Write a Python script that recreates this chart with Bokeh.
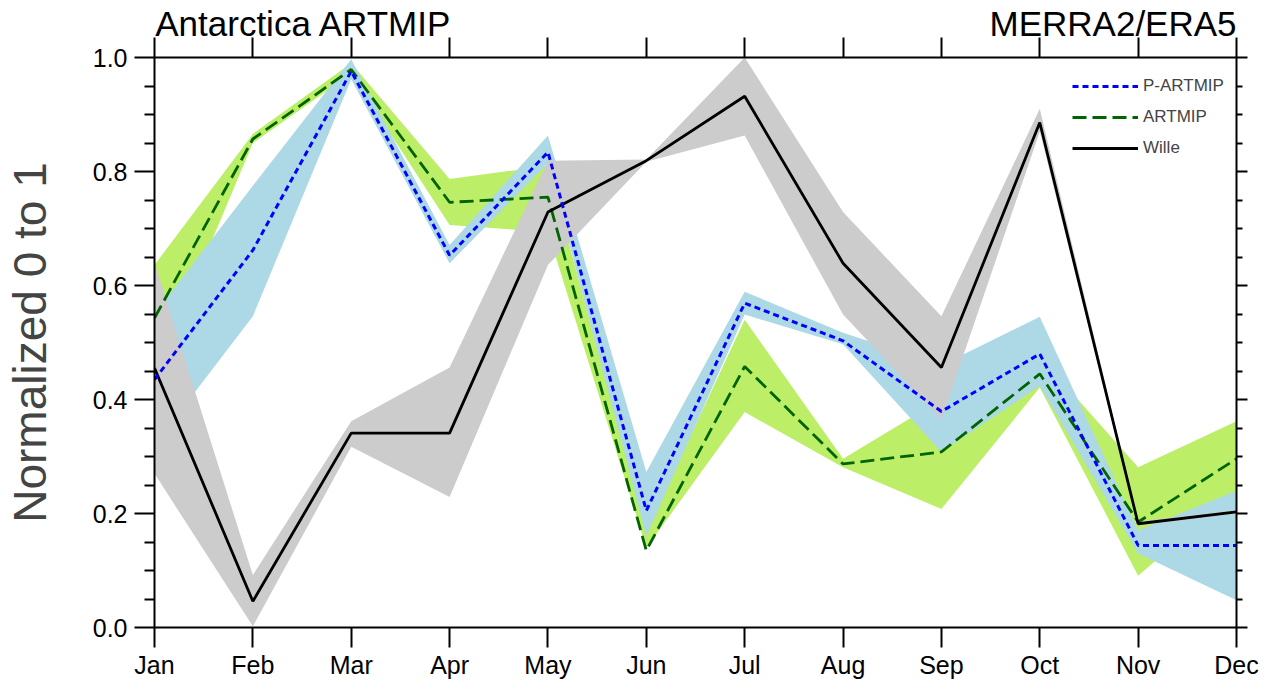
import numpy as np
from bokeh.plotting import figure
from bokeh.models import (Range1d, LinearAxis, FixedTicker, Legend, LegendItem,
                          CustomJSTickFormatter, PrintfTickFormatter)
from bokeh.embed import file_html
from bokeh.resources import INLINE

months = ["Jan", "Feb", "Mar", "Apr", "May", "Jun", "Jul", "Aug", "Sep", "Oct", "Nov", "Dec"]

wille    = [0.455, 0.046, 0.341, 0.341, 0.729, 0.819, 0.932, 0.639, 0.456, 0.886, 0.182, 0.203]
wille_hi = [0.640, 0.092, 0.362, 0.456, 0.819, 0.821, 1.000, 0.729, 0.546, 0.910, 0.186, 0.206]
wille_lo = [0.270, 0.002, 0.317, 0.229, 0.636, 0.817, 0.863, 0.549, 0.365, 0.870, 0.179, 0.200]

artmip    = [0.543, 0.857, 0.979, 0.746, 0.755, 0.135, 0.458, 0.287, 0.308, 0.445, 0.185, 0.296]
artmip_hi = [0.636, 0.866, 0.990, 0.787, 0.810, 0.170, 0.540, 0.296, 0.400, 0.475, 0.281, 0.362]
artmip_lo = [0.440, 0.850, 0.972, 0.706, 0.694, 0.140, 0.378, 0.281, 0.208, 0.421, 0.091, 0.240]

partmip    = [0.435, 0.662, 0.976, 0.653, 0.834, 0.205, 0.569, 0.503, 0.379, 0.480, 0.144, 0.144]
partmip_hi = [0.550, 0.775, 0.997, 0.671, 0.863, 0.273, 0.589, 0.517, 0.460, 0.545, 0.170, 0.240]
partmip_lo = [0.320, 0.546, 0.962, 0.639, 0.815, 0.160, 0.549, 0.497, 0.308, 0.424, 0.130, 0.048]

yticks = [0.0, 0.2, 0.4, 0.6, 0.8, 1.0]
yminor = [0.05, 0.1, 0.15, 0.25, 0.3, 0.35, 0.45, 0.5, 0.55, 0.65, 0.7, 0.75, 0.85, 0.9, 0.95]

title_left = "Antarctica ARTMIP"
title_right = "MERRA2/ERA5"

FONT = "Liberation Sans"
x = list(range(len(months)))

p = figure(frame_width=1082, frame_height=570, output_backend="svg", toolbar_location=None,
           x_range=Range1d(0, 11), y_range=Range1d(0, 1),
           min_border_left=149, min_border_right=25, min_border_top=54, min_border_bottom=0)
p.outline_line_color = None
p.xgrid.grid_line_color = None
p.ygrid.grid_line_color = None
p.background_fill_color = "white"
p.border_fill_color = "white"

# bands
p.varea(x=x, y1=artmip_lo, y2=artmip_hi, fill_color="#BCEE68")
p.varea(x=x, y1=partmip_lo, y2=partmip_hi, fill_color="#ADD8E6")
p.varea(x=x, y1=wille_lo, y2=wille_hi, fill_color="#CCCCCC")

# lines
r_art = p.line(x, artmip, line_color="#006400", line_width=2.8, line_dash="14 6")
r_wil = p.line(x, wille, line_color="black", line_width=2.8)
r_part = p.line(x, partmip, line_color="blue", line_width=3, line_dash="6 4")

def style_axis(ax):
    ax.axis_line_width = 2
    ax.axis_line_color = "black"
    ax.major_tick_line_width = 2
    ax.minor_tick_line_width = 2
    ax.major_tick_in = 0
    ax.major_tick_out = 20
    ax.minor_tick_in = 0
    ax.minor_tick_out = 10
    ax.major_label_text_font = FONT
    ax.major_label_text_font_size = "25px"
    ax.major_label_text_color = "black"

# bottom x axis
xa = p.xaxis[0]
xa.ticker = FixedTicker(ticks=x)
xa.major_label_overrides = {i: m for i, m in enumerate(months)}
style_axis(xa)
xa.minor_tick_out = 0
xa.major_label_standoff = 3

# left y axis
ya = p.yaxis[0]
ya.ticker = FixedTicker(ticks=yticks, minor_ticks=yminor)
ya.formatter = PrintfTickFormatter(format="%.1f")
style_axis(ya)
ya.major_label_standoff = 7
ya.axis_label = "Normalized 0 to 1"
ya.axis_label_text_font = FONT
ya.axis_label_text_font_size = "46px"
ya.axis_label_text_font_style = "normal"
ya.axis_label_standoff = 34

blank = CustomJSTickFormatter(code="return '';")

# top axis: month ticks drawn as minor ticks, the two header texts as major labels
p.extra_x_ranges = {"hdr": Range1d(0, 11)}
top = LinearAxis(x_range_name="hdr",
                 ticker=FixedTicker(ticks=[1.517, 9.745], minor_ticks=x))
style_axis(top)
top.major_tick_out = 0
top.minor_tick_out = 20
top.major_label_overrides = {1.517: title_left, 9.745: title_right}
top.major_label_text_font_size = "35px"
top.major_label_standoff = -5
top.axis_label = None
p.add_layout(top, "above")

# right axis: ticks only
right = LinearAxis(ticker=FixedTicker(ticks=yticks, minor_ticks=yminor), formatter=blank)
style_axis(right)
right.major_tick_out = 11
right.minor_tick_out = 6
right.major_label_standoff = 0
right.major_label_text_font_size = "0px"
right.axis_label = None
right.axis_label_standoff = 0
p.add_layout(right, "right")

legend = Legend(items=[LegendItem(label="P-ARTMIP", renderers=[r_part]),
                       LegendItem(label="ARTMIP", renderers=[r_art]),
                       LegendItem(label="Wille", renderers=[r_wil])],
                location=(918, 469), orientation="vertical",
                glyph_width=66, glyph_height=20, label_height=20, spacing=11,
                label_standoff=5, padding=0, margin=0,
                label_text_font=FONT, label_text_font_size="17px",
                border_line_color=None, background_fill_alpha=0)
p.add_layout(legend, "center")

open("out.html", "w").write(file_html(p, INLINE))
